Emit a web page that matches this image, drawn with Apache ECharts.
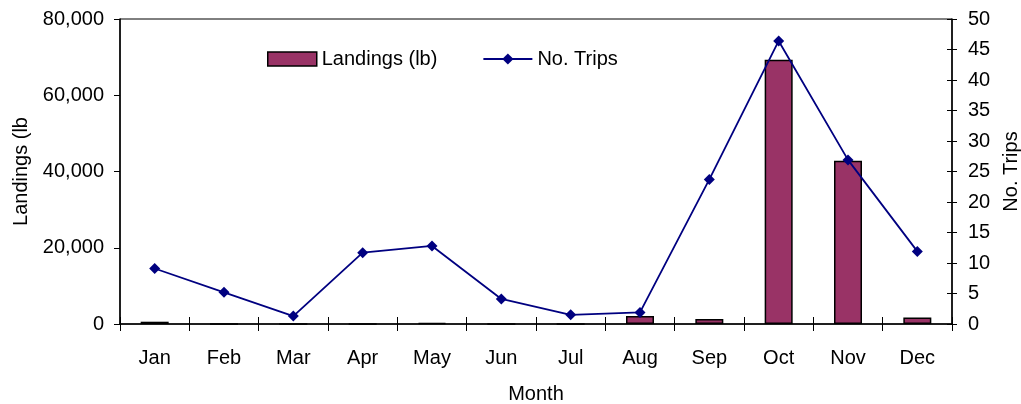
<!DOCTYPE html>
<html>
<head>
<meta charset="utf-8">
<script src="https://cdn.jsdelivr.net/npm/echarts@6/dist/echarts.min.js"></script>
<style>
html,body{margin:0;padding:0;background:#fff;}
#chart{width:1021px;height:404px;}
</style>
</head>
<body>
<div id="chart"></div>
<script>
var months = ['Jan','Feb','Mar','Apr','May','Jun','Jul','Aug','Sep','Oct','Nov','Dec'];
var landings = [600, 0, 0, 0, 250, 0, 0, 2100, 1300, 69300, 42800, 1700];
var trips = [9.1, 5.2, 1.3, 11.7, 12.8, 4.1, 1.5, 1.9, 23.7, 46.4, 26.9, 11.9];
var leftTicks = [0, 80000, 20000];
var rightTicks = [0, 50, 5];

var FONT = 'Liberation Sans, Arial, sans-serif';
var chart = echarts.init(document.getElementById('chart'));
var txt = {color:'#000', fontFamily:FONT, fontSize:20};
chart.setOption({
  animation:false,
  backgroundColor:'#fff',
  textStyle:{fontFamily:FONT},
  grid:{left:120, right:69, top:19, bottom:80, show:true, borderColor:'#000', borderWidth:1, backgroundColor:'transparent', outerBoundsMode:'none', containLabel:false},
  legend:{
    left:262, top:44, itemGap:45, itemWidth:49, itemHeight:14,
    textStyle:txt,
    data:[
      {name:'Landings (lb)', icon:'rect', itemStyle:{color:'#993366', borderColor:'#000', borderWidth:1.5}},
      {name:'No. Trips'}
    ]
  },
  xAxis:[{
    type:'category', data:months, position:'bottom',
    name:'Month', nameLocation:'middle', nameGap:60, nameTextStyle:txt,
    axisLine:{lineStyle:{color:'#000', width:1.5}},
    axisTick:{show:true, length:7, lineStyle:{color:'#000'}},
    axisLabel:Object.assign({margin:24}, txt),
    splitLine:{show:false}
  },{
    type:'category', data:months, position:'bottom',
    axisLine:{show:false},
    axisTick:{show:true, inside:true, length:7, lineStyle:{color:'#000'}},
    axisLabel:{show:false},
    splitLine:{show:false}
  }],
  yAxis:[{
    type:'value', min:leftTicks[0], max:leftTicks[1], interval:leftTicks[2], position:'left',
    name:'Landings (lb', nameLocation:'middle', nameGap:88, nameTextStyle:txt,
    axisLine:{show:true, lineStyle:{color:'#000', width:1.5}},
    axisTick:{show:true, length:6, lineStyle:{color:'#000'}},
    axisLabel:Object.assign({margin:16, formatter:function(v){return v.toLocaleString('en-US');}}, txt),
    splitLine:{show:false}
  },{
    type:'value', min:rightTicks[0], max:rightTicks[1], interval:rightTicks[2], position:'right',
    name:'No. Trips', nameLocation:'middle', nameGap:48, nameRotate:90, nameTextStyle:txt,
    axisLine:{show:true, lineStyle:{color:'#000', width:1.5}},
    axisTick:{show:true, length:5, lineStyle:{color:'#000'}},
    axisLabel:Object.assign({margin:16}, txt),
    splitLine:{show:false}
  },{
    type:'value', min:rightTicks[0], max:rightTicks[1], interval:rightTicks[2], position:'right',
    axisLine:{show:false},
    axisTick:{show:true, inside:true, length:5, lineStyle:{color:'#000'}},
    axisLabel:{show:false},
    splitLine:{show:false}
  }],
  series:[{
    name:'Landings (lb)', type:'bar', data:landings, xAxisIndex:0, yAxisIndex:0,
    barWidth:28,
    itemStyle:{color:'#993366', borderColor:'#000', borderWidth:1.5}
  },{
    name:'No. Trips', type:'line', data:trips, xAxisIndex:0, yAxisIndex:1,
    symbol:'diamond', symbolSize:11, showSymbol:true,
    lineStyle:{color:'#000080', width:1.8},
    itemStyle:{color:'#000080'}
  }]
});
</script>
</body>
</html>
